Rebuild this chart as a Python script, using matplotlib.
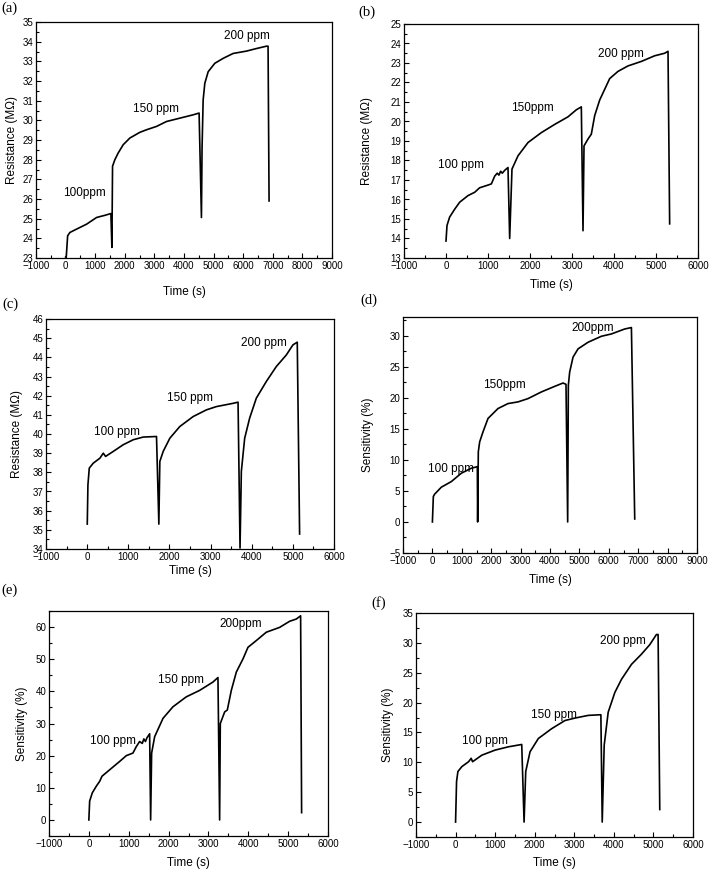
import matplotlib
matplotlib.use("Agg")
from matplotlib import pyplot as plt
from matplotlib.ticker import MultipleLocator

plt.rcParams['font.family'] = ['Liberation Sans', 'DejaVu Sans']

# ---- data ----
# (a) resistance
a_t = [0, 24, 69, 147, 372, 709, 1046, 1327, 1530, 1564, 1586, 1665, 1777, 1946, 2171, 2508,
       2733, 3071, 3408, 3858, 4308, 4510, 4589, 4610, 4647, 4703, 4816, 5040, 5321, 5659,
       6109, 6446, 6784, 6840, 6874]
a_r = [23.05, 23.1, 24.13, 24.3, 24.47, 24.72, 25.06, 25.17, 25.26, 23.54, 27.67, 28.0, 28.34,
       28.76, 29.1, 29.39, 29.52, 29.69, 29.94, 30.11, 30.28, 30.37, 25.06, 28.6, 31.04, 31.88,
       32.47, 32.9, 33.15, 33.4, 33.52, 33.65, 33.77, 33.77, 25.9]

# (b) resistance
b_t = [0, 24, 87, 206, 325, 524, 683, 800, 1000, 1080, 1160, 1220, 1260, 1300, 1340, 1400,
       1476, 1516, 1571, 1714, 1952, 2270, 2587, 2905, 3103, 3222, 3262, 3286, 3381, 3460,
       3540, 3659, 3778, 3897, 4095, 4333, 4650, 4968, 5206, 5286, 5325]
b_r = [13.87, 14.67, 15.1, 15.5, 15.86, 16.2, 16.37, 16.6, 16.74, 16.8, 17.2, 17.35, 17.25,
       17.45, 17.35, 17.5, 17.64, 14.0, 17.56, 18.24, 18.92, 19.43, 19.85, 20.24, 20.6, 20.75,
       14.4, 18.75, 19.1, 19.35, 20.3, 21.1, 21.65, 22.2, 22.57, 22.85, 23.08, 23.37, 23.5,
       23.6, 14.75]

# (c) resistance
c_t = [3, 19, 52, 149, 311, 392, 448, 634, 877, 1120, 1362, 1686, 1743, 1767, 1848, 2010,
       2252, 2576, 2900, 3142, 3547, 3668, 3716, 3748, 3829, 3950, 4112, 4355, 4598, 4840,
       5002, 5107, 5164]
c_r = [35.3, 37.35, 38.22, 38.48, 38.74, 39.0, 38.83, 39.09, 39.44, 39.7, 39.84, 39.87, 35.3,
       38.57, 39.09, 39.78, 40.39, 40.91, 41.26, 41.43, 41.6, 41.66, 34.05, 38.05, 39.78,
       40.83, 41.87, 42.74, 43.52, 44.12, 44.65, 44.79, 34.78]

# (d) sensitivity
d_t = [0, 32, 77, 304, 644, 984, 1324, 1528, 1539, 1562, 1608, 1721, 1891, 2231, 2571, 2912,
       3252, 3705, 4159, 4442, 4544, 4601, 4624, 4669, 4783, 4954, 5294, 5748, 6088, 6542,
       6769, 6882]
d_s = [0, 4.1, 4.48, 5.6, 6.5, 7.85, 8.65, 8.9, 0, 11.3, 12.9, 14.5, 16.66, 18.26, 19.06,
       19.33, 19.86, 20.93, 21.83, 22.37, 22.16, 0, 22.0, 24.13, 26.53, 27.87, 28.93, 29.9,
       30.27, 31.07, 31.3, 0.48]

# (e) sensitivity
e_t = [0, 20, 87, 187, 271, 330, 522, 773, 940, 1106, 1190, 1274, 1340, 1380, 1420, 1460,
       1525, 1550, 1575, 1651, 1860, 2110, 2445, 2779, 3114, 3239, 3281, 3298, 3407, 3474,
       3574, 3700, 3867, 3992, 4201, 4452, 4786, 5037, 5204, 5313, 5338]
e_s = [0, 5.87, 8.44, 10.5, 12.0, 13.6, 15.6, 18.2, 20.0, 20.8, 22.8, 24.4, 23.8, 25.2, 24.4,
       25.6, 26.8, 0, 20.8, 25.9, 31.6, 35.2, 38.3, 40.3, 42.9, 44.3, 0, 30.0, 33.6, 34.2, 40.3,
       46.0, 50.1, 53.7, 55.8, 58.4, 59.9, 61.8, 62.5, 63.5, 2.26]

# (f) sensitivity
f_t = [0, 25, 59, 160, 328, 395, 429, 664, 1000, 1336, 1672, 1731, 1773, 1882, 2092, 2429,
       2765, 3017, 3353, 3672, 3706, 3756, 3857, 4025, 4193, 4445, 4697, 4908, 5076, 5118, 5160]
f_s = [0, 6.8, 8.46, 9.29, 10.1, 10.67, 10.1, 11.2, 12.05, 12.6, 12.99, 0, 8.46, 11.77, 13.99,
       15.64, 17.0, 17.41, 17.86, 17.97, 0, 12.88, 18.4, 21.7, 23.9, 26.4, 28.1, 29.7, 31.4,
       31.4, 2.1]

res_label = "Resistance (M\u03a9)"
sens_label = "Sensitivity (%)"

# panel: tag, x, y, ylabel, xlim, ylim, ymajor, texts, box (l, r, t, b px), xlabel y px, ylabel x px, tag pos px
panels = [
    ("(a)", a_t, a_r, res_label, (-1000, 9000), (23, 35), 1,
     [(620, 26.29, "100ppm"), (3070, 30.58, "150 ppm"), (6130, 34.28, "200 ppm")],
     (36, 332, 22, 258), 292, 12, (9, 8)),
    ("(b)", b_t, b_r, res_label, (-1000, 6000), (13, 25), 1,
     [(350, 17.76, "100 ppm"), (2048, 20.7, "150ppm"), (4175, 23.48, "200 ppm")],
     (404, 698, 24, 258), 285, 367, (367, 12)),
    ("(c)", c_t, c_r, res_label, (-1000, 6000), (34, 46), 1,
     [(716, 40.1, "100 ppm"), (2495, 41.9, "150 ppm"), (4300, 44.73, "200 ppm")],
     (46, 334, 319, 549), 571, 17, (10, 304)),
    ("(d)", d_t, d_s, sens_label, (-1000, 9000), (-5, 33), 5,
     [(624, 8.49, "100 ppm"), (2458, 22.0, "150ppm"), (5463, 31.2, "200ppm")],
     (403, 697, 317, 553), 580, 368, (369, 300)),
    ("(e)", e_t, e_s, sens_label, (-1000, 6000), (-5, 65), 10,
     [(605, 24.6, "100 ppm"), (2320, 43.6, "150 ppm"), (3809, 60.9, "200ppm")],
     (49, 328, 611, 836), 863, 22, (9, 590)),
    ("(f)", f_t, f_s, sens_label, (-1000, 6000), (-2.5, 35), 5,
     [(748, 13.54, "100 ppm"), (2479, 17.97, "150 ppm"), (4218, 30.3, "200 ppm")],
     (416, 693, 613, 837), 863, 388, (379, 603)),
]

W, H = 709, 871
fig = plt.figure(figsize=(W / 100, H / 100), dpi=100)

for tag, t, v, ylab, xl, yl, ymaj, texts, box, xlab_y, ylab_x, tagpos in panels:
    l, r, top, bot = box
    ax = fig.add_axes([l / W, (H - bot) / H, (r - l) / W, (bot - top) / H])
    ax.plot(t, v, color="black", lw=1.2)
    ax.set_xlim(*xl)
    ax.set_ylim(*yl)
    ax.xaxis.set_major_locator(MultipleLocator(1000))
    ax.xaxis.set_minor_locator(MultipleLocator(500))
    ax.yaxis.set_major_locator(MultipleLocator(ymaj))
    ax.yaxis.set_minor_locator(MultipleLocator(ymaj / 2))
    ax.tick_params(which="both", direction="in", labelsize=7, width=0.8)
    ax.tick_params(which="major", length=3.5, pad=2)
    ax.tick_params(which="minor", length=2)
    for s in ax.spines.values():
        s.set_linewidth(0.9)
    ax.set_xlabel("Time (s)", fontsize=8.5, va="center")
    ax.xaxis.set_label_coords(0.5, -(xlab_y - bot) / (bot - top))
    ax.set_ylabel(ylab, fontsize=8.5, va="center")
    ax.yaxis.set_label_coords(-(l - ylab_x) / (r - l), 0.5)
    for x, y, s in texts:
        ax.text(x, y, s, fontsize=8.5, ha="center", va="center")
    fig.text(tagpos[0] / W, 1 - tagpos[1] / H, tag, family="Liberation Serif",
             fontsize=10.5, ha="center", va="center")

fig.savefig("out.png", dpi=100)
